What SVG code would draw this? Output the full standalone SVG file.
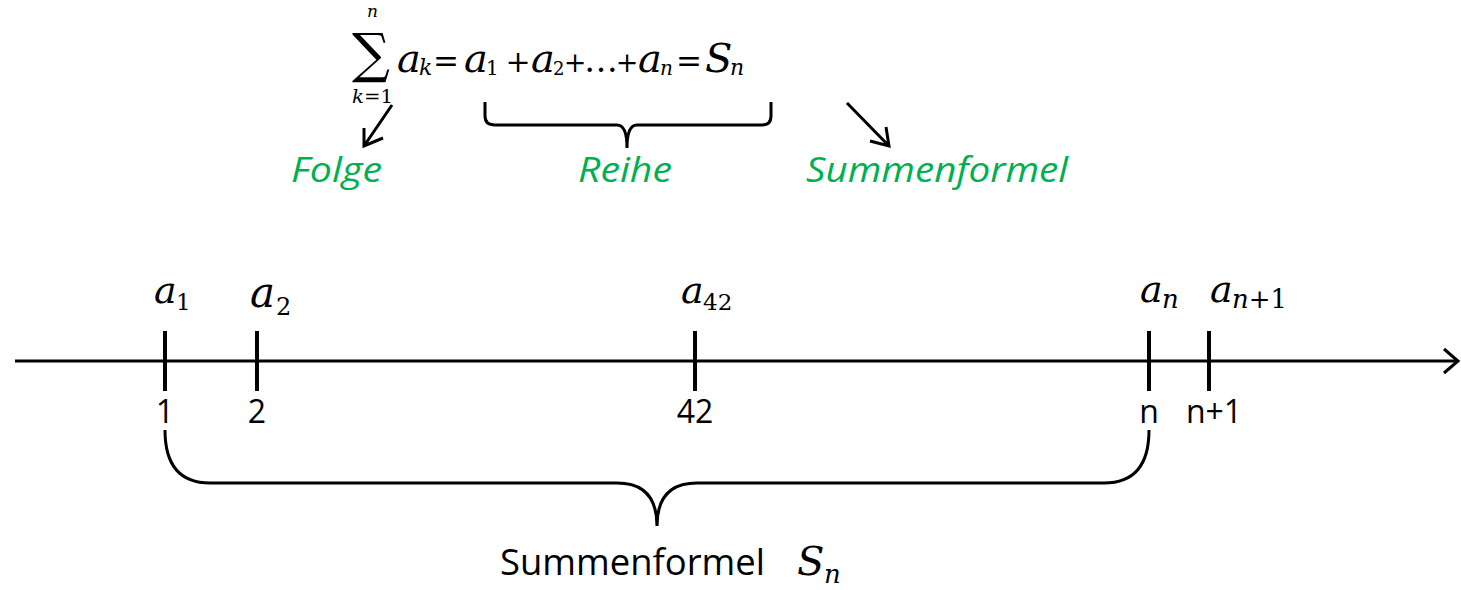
<svg xmlns="http://www.w3.org/2000/svg" width="1461" height="590" viewBox="0 0 1461 590">
<style>
.m{font-family:"DejaVu Serif","Liberation Serif",serif;font-style:italic;fill:#000}
.mr{font-family:"DejaVu Serif","Liberation Serif",serif;fill:#000}
.t{font-family:"Open Sans","Liberation Sans",sans-serif;fill:#000}
.g{font-family:"Open Sans","Liberation Sans",sans-serif;font-style:italic;fill:#00B050}
.ln{fill:none;stroke:#000;stroke-width:3;stroke-linecap:butt}
.tick{stroke:#000;stroke-width:4}
</style>
<rect width="1461" height="590" fill="#fff"/>
<g id="formula">
<text class="mr" x="352" y="72" font-size="54" textLength="38" lengthAdjust="spacingAndGlyphs">∑</text>
<text class="m" x="367" y="17" font-size="17">n</text>
<text class="m" x="352" y="103" font-size="18" textLength="41" lengthAdjust="spacingAndGlyphs">k<tspan font-style="normal">=1</tspan></text>
<text class="m" x="397" y="72" font-size="40">a</text><text class="m" x="419" y="75" font-size="22">k</text>
<text class="mr" x="446" y="72" font-size="31" text-anchor="middle">=</text>
<text class="m" x="464" y="72" font-size="40">a</text><text class="mr" x="486" y="75" font-size="20">1</text>
<text class="mr" x="518" y="72" font-size="30" text-anchor="middle">+</text>
<text class="m" x="531" y="72" font-size="40">a</text><text class="mr" x="553" y="75" font-size="18">2</text>
<text class="mr" x="575" y="72" font-size="27" text-anchor="middle">+</text>
<text class="mr" x="601" y="72" font-size="34" text-anchor="middle">…</text>
<text class="mr" x="627" y="72" font-size="27" text-anchor="middle">+</text>
<text class="m" x="638" y="72" font-size="40">a</text><text class="m" x="660" y="75" font-size="20">n</text>
<text class="mr" x="689" y="72" font-size="31" text-anchor="middle">=</text>
<text class="m" x="705" y="72" font-size="40">S</text><text class="m" x="730" y="75" font-size="22">n</text>
</g>
<g id="brace-reihe">
<path class="ln" d="M485,102 L485,116 Q485,125 495,125 L617,125 Q627,125 627,148 Q627,125 637,125 L762,125 Q771,125 771,116 L771,102"/>
</g>
<g id="label-folge"><text class="g" x="291" y="182" font-size="34" textLength="91" lengthAdjust="spacingAndGlyphs">Folge</text></g>
<g id="label-reihe"><text class="g" x="578" y="182" font-size="34" textLength="94" lengthAdjust="spacingAndGlyphs">Reihe</text></g>
<g id="label-summenformel-top"><text class="g" x="806" y="182" font-size="34" textLength="262" lengthAdjust="spacingAndGlyphs">Summenformel</text></g>
<g id="axis">
<line class="ln" x1="15" y1="361" x2="1458" y2="361"/>
<path class="ln" d="M1444,349 L1458,361 L1444,373"/>
</g>
<g id="tick-1"><line class="tick" x1="165" y1="331" x2="165" y2="391"/><text class="m" x="154" y="303" font-size="38">a</text><text class="mr" x="176" y="310" font-size="23">1</text><text class="t" x="165" y="423" font-size="32" text-anchor="middle">1</text></g>
<g id="tick-2"><line class="tick" x1="257" y1="331" x2="257" y2="391"/><text class="m" x="250" y="307" font-size="42">a</text><text class="mr" x="276" y="315" font-size="24">2</text><text class="t" x="257" y="423" font-size="32" text-anchor="middle">2</text></g>
<g id="tick-42"><line class="tick" x1="695" y1="331" x2="695" y2="391"/><text class="m" x="681" y="303" font-size="38">a</text><text class="mr" x="703" y="310" font-size="23">42</text><text class="t" x="695" y="423" font-size="32" text-anchor="middle">42</text></g>
<g id="tick-n"><line class="tick" x1="1149" y1="331" x2="1149" y2="391"/><text class="m" x="1140" y="302" font-size="38">a</text><text class="m" x="1162" y="308" font-size="26">n</text><text class="t" x="1149" y="423" font-size="32" text-anchor="middle">n</text></g>
<g id="tick-n1"><line class="tick" x1="1209" y1="331" x2="1209" y2="391"/><text class="m" x="1210" y="302" font-size="38">a</text><text class="m" x="1232" y="308" font-size="26" textLength="55" lengthAdjust="spacingAndGlyphs">n<tspan font-style="normal">+1</tspan></text><text class="t" x="1214" y="423" font-size="32" text-anchor="middle">n+1</text></g>
<g id="brace-sum">
<path class="ln" d="M165,430 Q165,483 210,483 L617,483 Q657,483 657,526 Q657,483 697,483 L1104,483 Q1149,483 1149,430"/>
</g>
<g id="label-summenformel"><text class="t" x="500" y="575" font-size="37" textLength="265" lengthAdjust="spacingAndGlyphs">Summenformel</text><text class="m" x="797" y="575" font-size="40">S</text><text class="m" x="824" y="583" font-size="26">n</text></g>
<g id="connectors">
<path class="ln" d="M392,105 L364,146 M364,128 L364,146 L383,138"/>
<path class="ln" d="M847,103 L889,146 M870,141 L889,146 L886,127"/>
</g>
</svg>
